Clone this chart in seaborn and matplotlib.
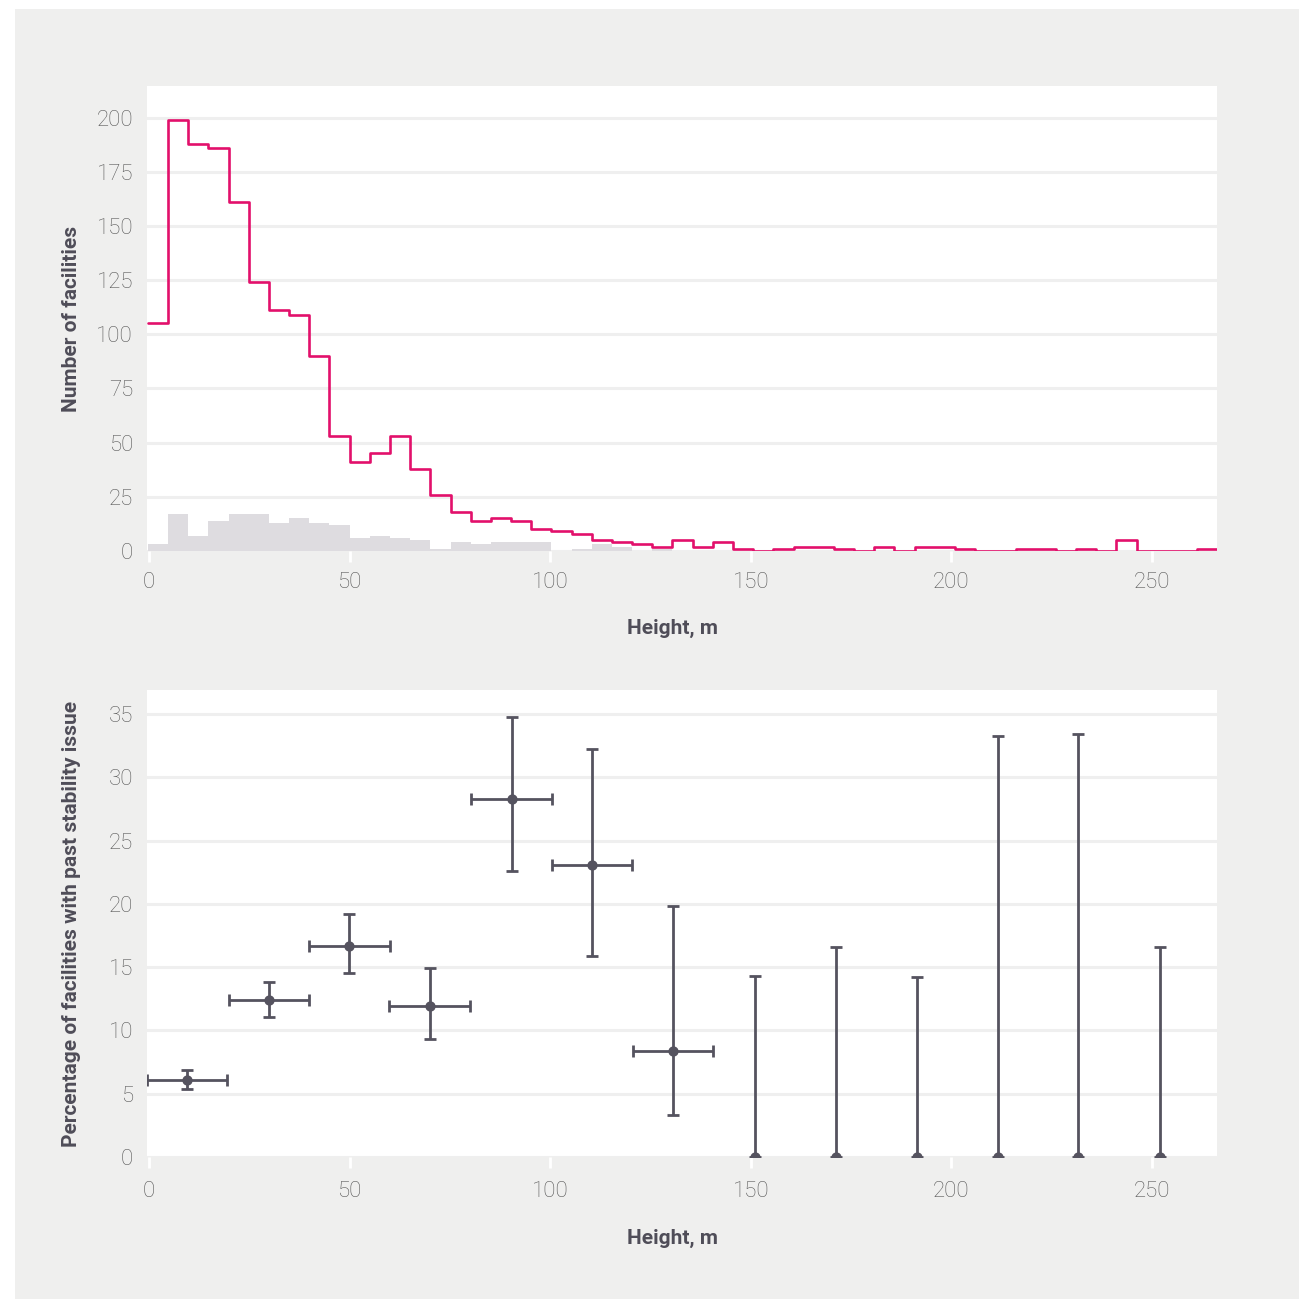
import numpy as np
import pandas as pd
import matplotlib
matplotlib.use("Agg")
import matplotlib.pyplot as plt
from matplotlib.patches import Rectangle
import seaborn as sns

# Facility counts per height bin (all facilities / with a past stability issue)
bin_start = -0.3
bin_width = 5.03
all_counts = [105, 199, 188, 186, 161, 124, 111, 109, 90, 53,
              41, 45, 53, 38, 26, 18, 14, 15, 14, 10,
              9, 8, 5, 4, 3, 2, 5, 2, 4, 1,
              0, 1, 2, 2, 1, 0, 2, 0, 2, 2,
              1, 0, 0, 1, 1, 0, 1, 0, 5, 0,
              0, 0, 1]
issue_counts = [3, 17, 7, 14, 17, 17, 13, 15, 13, 12,
                6, 7, 6, 5, 1, 4, 3, 4, 4, 4,
                0, 1, 3, 2, 0, 1, 0, 0, 0, 0,
                0, 0, 0, 0, 0, 0, 0, 0, 0, 0,
                0, 0, 0, 0, 0, 0, 0, 0, 0, 0,
                0, 0, 0]

# Share of facilities with a past stability issue per height band
band_centers = [9.5, 29.9, 49.9, 70.0, 90.4, 110.4, 130.6,
                151.0, 171.2, 191.4, 211.6, 231.6, 252.0]
band_half_width = 10.06
pct = [6.1, 12.4, 16.7, 11.9, 28.3, 23.1, 8.4, 0, 0, 0, 0, 0, 0]
pct_low = [5.4, 11.1, 14.5, 9.3, 22.6, 15.9, 3.3, 0, 0, 0, 0, 0, 0]
pct_high = [6.9, 13.8, 19.2, 14.9, 34.8, 32.2, 19.8, 14.3, 16.6, 14.2, 33.3, 33.4, 16.6]
n_full = 7  # bands with enough facilities to show a height range

x_ticks = [0, 50, 100, 150, 200, 250]
top_yticks = [0, 25, 50, 75, 100, 125, 150, 175, 200]
bot_yticks = [0, 5, 10, 15, 20, 25, 30, 35]

RED = "#e2106b"
BAR_GREY = "#dedce0"
INK = "#55535f"
TICK_TXT = "#585858"
LABEL_TXT = "#4f4d58"
PANEL = "#efefee"
GRID = "#efefef"

sns.set_theme(style="white")
plt.rcParams["font.family"] = ["Roboto", "DejaVu Sans"]

n_bins = len(all_counts)
edges = [float(bin_start + bin_width * i) for i in range(n_bins + 1)]
centers = [(edges[i] + edges[i + 1]) / 2 for i in range(n_bins)]
hist_df = pd.DataFrame({"height": centers, "all": all_counts, "issue": issue_counts})

fig = plt.figure(figsize=(12.99, 12.99), dpi=100, facecolor="white")
fig.patches.append(Rectangle((15 / 1299, 0), 1 - 15 / 1299, 1 - 9 / 1299,
                             transform=fig.transFigure, facecolor=PANEL,
                             edgecolor="none", zorder=-10))

L, R = 147 / 1299, 1217 / 1299
ax1 = fig.add_axes([L, 1 - 551 / 1299, R - L, (551 - 86) / 1299])
ax2 = fig.add_axes([L, 1 - 1157 / 1299, R - L, (1157 - 690) / 1299])


def style_axis(ax, yticks, ylim, ylabel, xlabel_y, xpad):
    ax.set_facecolor("white")
    for s in ax.spines.values():
        s.set_visible(False)
    ax.set_axisbelow(True)
    ax.yaxis.grid(True, color=GRID, linewidth=2.2)
    ax.xaxis.grid(False)
    ax.set_xlim(-0.5, 266.2)
    ax.set_ylim(*ylim)
    ax.set_xticks(x_ticks)
    ax.set_yticks(yticks)
    ax.tick_params(axis="x", bottom=True, length=8, width=2, color="white",
                   pad=xpad, labelsize=16, labelcolor=TICK_TXT, direction="out")
    ax.tick_params(axis="y", left=False, length=0, pad=10,
                   labelsize=16, labelcolor=TICK_TXT)
    for lab in ax.get_xticklabels() + ax.get_yticklabels():
        lab.set_fontweight("light")
    ax.set_xlabel("Height, m", fontsize=15, fontweight="bold", color=LABEL_TXT)
    ax.xaxis.set_label_coords(0.4907, xlabel_y)
    ax.xaxis.label.set_verticalalignment("center")
    ax.set_ylabel(ylabel, fontsize=15, fontweight="bold", color=LABEL_TXT)
    ax.yaxis.set_label_coords(-0.071, 0.5)
    ax.yaxis.label.set_verticalalignment("center")


# Top: histogram of facility heights
sns.histplot(data=hist_df, x="height", weights="issue", bins=edges,
             element="bars", fill=True, color=BAR_GREY, alpha=1,
             linewidth=0, shrink=1, ax=ax1, zorder=1)
sns.histplot(data=hist_df, x="height", weights="all", bins=edges,
             element="step", fill=False, color=RED, linewidth=1.9,
             ax=ax1, zorder=3)
style_axis(ax1, top_yticks, (0.5, 214.6), "Number of facilities",
           (551 - 628) / 465, 7)

# Bottom: percentage with past stability issue, with uncertainty ranges
pct_df = pd.DataFrame({"height": band_centers, "pct": pct,
                       "low": pct_low, "high": pct_high})
sns.scatterplot(data=pct_df, x="height", y="pct", color=INK, s=55,
                edgecolor=INK, linewidth=0, ax=ax2, zorder=4)
full = pct_df.iloc[:n_full]
rest = pct_df.iloc[n_full:]
ax2.errorbar(full["height"], full["pct"],
             yerr=[full["pct"] - full["low"], full["high"] - full["pct"]],
             xerr=band_half_width, fmt="none", ecolor=INK, elinewidth=2,
             capsize=4.5, capthick=2, zorder=3)
ax2.errorbar(rest["height"], rest["pct"],
             yerr=[rest["pct"] - rest["low"], rest["high"] - rest["pct"]],
             fmt="none", ecolor=INK, elinewidth=2,
             capsize=4.5, capthick=2, zorder=3)
style_axis(ax2, bot_yticks, (0, 36.9),
           "Percentage of facilities with past stability issue",
           (1157 - 1238) / 467, 9)

fig.savefig("out.png", dpi=100, facecolor="white")
